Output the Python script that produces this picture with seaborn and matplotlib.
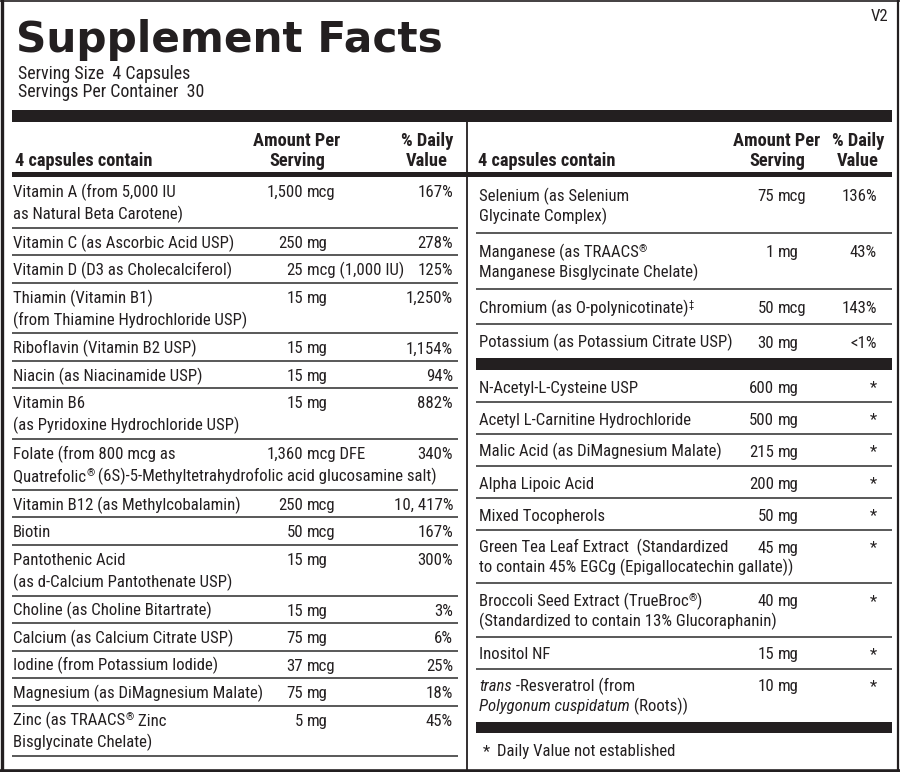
import re
import matplotlib
matplotlib.use("Agg")
import matplotlib.pyplot as plt
from matplotlib import font_manager
import seaborn as sns

sns.set_theme(style="white")
_names = {f.name for f in font_manager.fontManager.ttflist}
_cands = ["Roboto Condensed", "Open Sans Condensed", "Liberation Sans Narrow",
          "Arial Narrow", "DejaVu Sans Condensed"]
BODY = [n for n in _cands if n in _names] + ["Liberation Sans", "DejaVu Sans"]
TITLE = ["DejaVu Sans"]
plt.rcParams["font.family"] = BODY

# ---------------- data ----------------
title = "Supplement Facts"
version = "V2"
serving_lines = ["Serving Size  4 Capsules", "Servings Per Container  30"]
col_header = "4 capsules contain"
amount_header = ["Amount Per", "Serving"]
dv_header = ["% Daily", "Value"]
footnote_mark = "*"
footnote_text = "Daily Value not established"

left_names = [
    "Vitamin A (from 5,000 IU\nas Natural Beta Carotene)",
    "Vitamin C (as Ascorbic Acid USP)",
    "Vitamin D (D3 as Cholecalciferol)",
    "Thiamin (Vitamin B1)\n(from Thiamine Hydrochloride USP)",
    "Riboflavin (Vitamin B2 USP)",
    "Niacin (as Niacinamide USP)",
    "Vitamin B6\n(as Pyridoxine Hydrochloride USP)",
    "Folate (from 800 mcg as\nQuatrefolic^®^ (6S)-5-Methyltetrahydrofolic acid glucosamine salt)",
    "Vitamin B12 (as Methylcobalamin)",
    "Biotin",
    "Pantothenic Acid\n(as d-Calcium Pantothenate USP)",
    "Choline (as Choline Bitartrate)",
    "Calcium (as Calcium Citrate USP)",
    "Iodine (from Potassium Iodide)",
    "Magnesium (as DiMagnesium Malate)",
    "Zinc (as TRAACS^®^ Zinc\nBisglycinate Chelate)",
]
left_amounts = ["1,500 mcg", "250 mg", "25 mcg (1,000 IU)", "15 mg", "15 mg", "15 mg",
                "15 mg", "1,360 mcg DFE", "250 mcg", "50 mcg", "15 mg", "15 mg",
                "75 mg", "37 mcg", "75 mg", "5 mg"]
left_dv = ["167%", "278%", "125%", "1,250%", "1,154%", "94%", "882%", "340%",
           "10, 417%", "167%", "300%", "3%", "6%", "25%", "18%", "45%"]

mineral_names = [
    "Selenium (as Selenium\nGlycinate Complex)",
    "Manganese (as TRAACS^®^\nManganese Bisglycinate Chelate)",
    "Chromium (as O-polynicotinate)^‡^",
    "Potassium (as Potassium Citrate USP)",
]
mineral_amounts = ["75 mcg", "1 mg", "50 mcg", "30 mg"]
mineral_dv = ["136%", "43%", "143%", "<1%"]

other_names = [
    "N-Acetyl-L-Cysteine USP",
    "Acetyl L-Carnitine Hydrochloride",
    "Malic Acid (as DiMagnesium Malate)",
    "Alpha Lipoic Acid",
    "Mixed Tocopherols",
    "Green Tea Leaf Extract  (Standardized\nto contain 45% EGCg (Epigallocatechin gallate))",
    "Broccoli Seed Extract (TrueBroc^®^)\n(Standardized to contain 13% Glucoraphanin)",
    "Inositol NF",
    "_trans_ -Resveratrol (from\n_Polygonum cuspidatum_ (Roots))",
]
other_amounts = ["600 mg", "500 mg", "215 mg", "200 mg", "50 mg", "45 mg", "40 mg",
                 "15 mg", "10 mg"]
other_dv = ["*", "*", "*", "*", "*", "*", "*", "*", "*"]

# ---------------- layout ----------------
W, H = 900, 772
INK = "#231f20"
RULE = "#3c3c3c"
fig = plt.figure(figsize=(W / 100, H / 100), dpi=100)
fig.patch.set_facecolor("white")
ax = fig.add_axes([0, 0, 1, 1])
ax.set_xlim(0, W)
ax.set_ylim(H, 0)
ax.axis("off")
renderer = fig.canvas.get_renderer()


def text_width(s, size, family, weight="normal", style="normal"):
    t = ax.text(0, 0, s, fontsize=size, family=family, weight=weight, style=style)
    w = t.get_window_extent(renderer).width
    t.remove()
    return w


def fit(s, target, family, weight="normal", base=10.0):
    return base * target / text_width(s, base, family, weight)


BS = fit("Quatrefolic® (6S)-5-Methyltetrahydrofolic acid glucosamine salt)", 427, BODY)
HS = fit(col_header, 138, BODY, "bold")
TS = fit(title, 427, TITLE, "bold", 30)
SS = fit(serving_lines[1], 186, BODY)
CAP = 0.5 * BS  # half cap height in px


def bar(x0, x1, y0, y1):
    ax.fill_between([x0, x1], [y0, y0], [y1, y1], color=INK, lw=0)


def rule(x0, x1, y):
    ax.plot([x0, x1], [y, y], color=RULE, lw=1.2, solid_capstyle="butt")


def rich_line(line, x, y, size):
    for seg in re.split(r"(_[^_]+_|\^[^^]+\^)", line):
        if not seg:
            continue
        kw = dict(ha="left", va="baseline", fontsize=size, color=INK)
        yy = y
        if seg.startswith("_"):
            seg = seg[1:-1]
            kw["style"] = "italic"
        elif seg.startswith("^"):
            seg = seg[1:-1]
            kw["fontsize"] = size * 0.62
            yy = y - 0.42 * size
        t = ax.text(x, yy, seg, **kw)
        x += t.get_window_extent(renderer).width


def rows(names, amounts, dvs, top, h1, h2, x_name, num_r, dv_r, sx0, sx1, off, lead,
         last_rule=True):
    y = top
    for i, (n, a, d) in enumerate(zip(names, amounts, dvs)):
        lines = n.split("\n")
        h = h1 if len(lines) == 1 else h2
        yb = y + off + CAP
        for j, ln in enumerate(lines):
            rich_line(ln, x_name, yb + j * lead, BS)
        num, unit = a.split(" ", 1)
        ax.text(num_r, yb, num, ha="right", va="baseline", fontsize=BS, color=INK)
        ax.text(num_r + 0.3 * BS, yb, unit, ha="left", va="baseline", fontsize=BS, color=INK)
        ax.text(dv_r, yb, d, ha="right", va="baseline", fontsize=BS, color=INK)
        y += h
        if i < len(names) - 1 or last_rule:
            rule(sx0, sx1, y)
    return y


# outer frame
ax.plot([1.5, 1.5], [0, H], color=INK, lw=2.4)
ax.plot([0, W], [0.6, 0.6], color=INK, lw=1.2)
ax.plot([897.5, 897.5], [0, H], color=INK, lw=1.6)
ax.plot([0, W], [770.5, 770.5], color=INK, lw=2.6)

# title block
ax.text(16, 52, title, fontsize=TS, family=TITLE, weight="bold", color=INK,
        ha="left", va="baseline")
ax.text(888, 15 + CAP, version, fontsize=BS, color=INK, ha="right", va="baseline")
ax.text(18, 73 + CAP, serving_lines[0], fontsize=SS, color=INK, ha="left", va="baseline")
ax.text(18, 91 + CAP, serving_lines[1], fontsize=SS, color=INK, ha="left", va="baseline")

# heavy bars and divider
bar(12, 892, 110, 122)
bar(12, 892, 172, 177)
ax.plot([467, 467], [122, 770], color=INK, lw=1.3)

# headers
for x_left, am_c, dv_c in [(15, 297, 427), (478, 777, 858)]:
    ax.text(x_left, 160 + CAP, col_header, fontsize=HS, weight="bold", color=INK,
            ha="left", va="baseline")
    for j in range(2):
        ax.text(am_c, 140 + 20 * j + CAP, amount_header[j], fontsize=HS, weight="bold",
                color=INK, ha="center", va="baseline")
        ax.text(dv_c, 140 + 20 * j + CAP, dv_header[j], fontsize=HS, weight="bold",
                color=INK, ha="center", va="baseline")

# left panel
rows(left_names, left_amounts, left_dv, 177, 27.5, 50.7, 13, 303, 453, 12, 458, 14, 22)

# right panel
y = rows(mineral_names, mineral_amounts, mineral_dv, 177, 34.5, 56, 479, 774, 877,
         476, 892, 18, 20, last_rule=False)
bar(476, 892, 358, 370)
rows(other_names, other_amounts, other_dv, 370, 32, 53.3, 479, 774, 877, 476, 892,
     16.5, 20, last_rule=False)
bar(476, 892, 722, 733)

ax.text(483, 750 + CAP, footnote_mark, fontsize=BS, color=INK, ha="left", va="baseline")
ax.text(497, 750 + CAP, footnote_text, fontsize=BS, color=INK, ha="left", va="baseline")

fig.savefig("out.png", dpi=100, facecolor="white")
